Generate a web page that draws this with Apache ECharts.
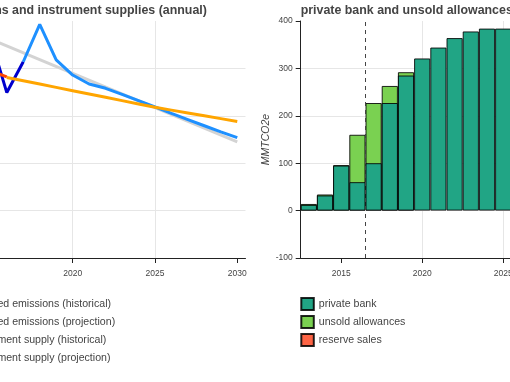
<!DOCTYPE html>
<html>
<head>
<meta charset="utf-8">
<script src="https://cdn.jsdelivr.net/npm/echarts@6/dist/echarts.min.js"></script>
<style>
html,body{margin:0;padding:0;width:510px;height:382px;overflow:hidden;background:#fff;}
#chart{position:absolute;left:-120px;top:0;width:740px;height:382px;}
</style>
</head>
<body>
<div id="chart"></div>
<script>
// ---- left panel: annual emissions and instrument supplies ----
const trendYears = [2013, 2030];
const trendValues = [491, 245];
const emisHistYears = [2015, 2016, 2017];
const emisHist = [465, 349, 414];
const emisProjYears = [2017, 2018, 2019, 2020, 2021, 2022, 2023, 2024, 2025, 2026, 2027, 2028, 2029, 2030];
const emisProj = [414, 493, 418, 386, 367, 358, 345, 332, 319, 305, 292, 279, 266, 254];
const supplyHistYears = [2015, 2016];
const supplyHist = [395, 382];
const supplyProjYears = [2016, 2017, 2018, 2019, 2020, 2021, 2022, 2023, 2024, 2025, 2026, 2027, 2028, 2029, 2030];
const supplyProj = [381, 374, 367, 360, 353, 346, 339, 332, 325, 318, 312, 306, 300, 294, 288];

// ---- right panel: cumulative private bank and unsold allowances ----
const bankYears = [2013, 2014, 2015, 2016, 2017, 2018, 2019, 2020, 2021, 2022, 2023, 2024, 2025];
const privateBank = [12, 32, 95, 60, 100, 227, 285, 321, 344, 364, 378, 384, 384];
const unsold = [2, 2, 1, 100, 127, 36, 7, 0, 0, 0, 0, 0, 0];
const reserveSales = [0, 0, 0, 0, 0, 0, 0, 0, 0, 0, 0, 0, 0];
const startMarkerYear = 2016.5;

const xTicks = [2015, 2020, 2025, 2030];
const leftTitle = 'emissions and instrument supplies (annual)';
const rightTitle = 'private bank and unsold allowances';
const yName = 'MMTCO2e';
const legendNames = ['covered emissions (historical)', 'covered emissions (projection)',
  'instrument supply (historical)', 'instrument supply (projection)'];
const bankNames = ['private bank', 'unsold allowances', 'reserve sales'];

const FONT = '"Liberation Sans", Arial, Helvetica, sans-serif';
const pair = (xs, ys) => xs.map((x, i) => [x, ys[i]]);
// stacked tops built from the layer arrays (layers drawn overlapping, top layer first)
const stackTop = (xs, layers) => xs.map((x, i) => {
  const own = layers[layers.length - 1][i];
  const total = layers.reduce((s, l) => s + l[i], 0);
  return [x, own === 0 ? null : total];
});

const gridColor = '#e6e6e6';
function xAxisCfg(gi) {
  return {
    type: 'value', gridIndex: gi, min: 2012.5, max: 2030.5,
    axisLine: { onZero: false, lineStyle: { color: '#222', width: 1 } },
    axisTick: { show: true, length: 5, customValues: xTicks, lineStyle: { color: '#222' } },
    axisLabel: { customValues: xTicks, color: '#444', fontSize: 8.5, fontFamily: FONT, margin: 11,
      formatter: v => String(v) },
    splitLine: { show: true, showMinLine: false, showMaxLine: false, lineStyle: { color: gridColor, width: 1 } }
  };
}

const chart = echarts.init(document.getElementById('chart'), null, { renderer: 'canvas' });
const lineBase = { type: 'line', xAxisIndex: 0, yAxisIndex: 0, showSymbol: false, symbol: 'none', animation: false };
const barBase = { type: 'bar', xAxisIndex: 1, yAxisIndex: 1, barWidth: 16.2, barGap: '-100%', animation: false };
const border = 'rgba(0,0,0,0.85)';

chart.setOption({
  animation: false,
  textStyle: { fontFamily: FONT },
  title: [
    { text: leftTitle, left: 68, top: 5, padding: 0, textStyle: { fontSize: 12.4, fontWeight: 'bold', color: '#444', fontFamily: FONT } },
    { text: rightTitle, left: 420.7, top: 5, padding: 0, textStyle: { fontSize: 12.4, fontWeight: 'bold', color: '#444', fontFamily: FONT } }
  ],
  grid: [
    { left: 69.2, top: 21, width: 296.3, height: 237 },
    { left: 420.7, top: 21, width: 291.6, height: 237 }
  ],
  xAxis: [xAxisCfg(0), xAxisCfg(1)],
  yAxis: [
    { type: 'value', gridIndex: 0, min: 0, max: 500, interval: 100,
      axisLine: { show: true, lineStyle: { color: '#222' } },
      axisTick: { show: true, length: 5, lineStyle: { color: '#222' } },
      axisLabel: { color: '#444', fontSize: 8.5, margin: 8, fontFamily: FONT },
      splitLine: { showMaxLine: false, lineStyle: { color: gridColor } } },
    { type: 'value', gridIndex: 1, min: -100, max: 400, interval: 100,
      name: yName, nameLocation: 'middle', nameGap: 25, nameRotate: 90,
      nameTextStyle: { fontStyle: 'italic', fontSize: 10.5, color: '#444', fontFamily: FONT },
      axisLine: { show: true, onZero: false, lineStyle: { color: '#222' } },
      axisTick: { show: true, length: 5, lineStyle: { color: '#222' } },
      axisLabel: { color: '#444', fontSize: 8.5, margin: 8, fontFamily: FONT },
      splitLine: { showMaxLine: false, lineStyle: { color: gridColor } } }
  ],
  legend: [
    { data: legendNames, orient: 'vertical', left: 73, top: 299, padding: 0, itemWidth: 12.5, itemHeight: 12, itemGap: 6.8,
      textStyle: { fontSize: 10.6, color: '#444', fontFamily: FONT }, selectedMode: false },
    { data: bankNames, orient: 'vertical', left: 420.3, top: 297, padding: 0, itemWidth: 12.5, itemHeight: 12, itemGap: 4,
      icon: 'rect', textStyle: { fontSize: 10.6, color: '#444', fontFamily: FONT }, selectedMode: false }
  ],
  series: [
    Object.assign({}, lineBase, { name: 'trend', data: pair(trendYears, trendValues), z: 1,
      lineStyle: { color: '#d3d3d3', width: 3 }, itemStyle: { color: '#d3d3d3' } }),
    Object.assign({}, lineBase, { name: legendNames[0], data: pair(emisHistYears, emisHist), z: 2,
      lineStyle: { color: '#0000cd', width: 3 }, itemStyle: { color: '#0000cd' } }),
    Object.assign({}, lineBase, { name: legendNames[1], data: pair(emisProjYears, emisProj), z: 2,
      lineStyle: { color: '#1e90ff', width: 3 }, itemStyle: { color: '#1e90ff' } }),
    Object.assign({}, lineBase, { name: legendNames[2], data: pair(supplyHistYears, supplyHist), z: 3,
      lineStyle: { color: '#ff4500', width: 3 }, itemStyle: { color: '#ff4500' } }),
    Object.assign({}, lineBase, { name: legendNames[3], data: pair(supplyProjYears, supplyProj), z: 3,
      lineStyle: { color: '#ffa500', width: 3 }, itemStyle: { color: '#ffa500' } }),
    Object.assign({}, barBase, { name: bankNames[2], z: 2,
      data: stackTop(bankYears, [privateBank, unsold, reserveSales]),
      itemStyle: { color: '#fd6445', borderColor: border, borderWidth: 1 } }),
    Object.assign({}, barBase, { name: bankNames[1], z: 3,
      data: stackTop(bankYears, [privateBank, unsold]),
      itemStyle: { color: '#7ad151', borderColor: border, borderWidth: 1 } }),
    Object.assign({}, barBase, { name: bankNames[0], z: 4,
      data: stackTop(bankYears, [privateBank]),
      itemStyle: { color: '#21a585', borderColor: border, borderWidth: 1 },
      markLine: { silent: true, symbol: 'none', label: { show: false },
        lineStyle: { color: '#444', type: [4, 4], width: 1 },
        data: [{ xAxis: startMarkerYear }] } })
  ]
});
</script>
</body>
</html>
